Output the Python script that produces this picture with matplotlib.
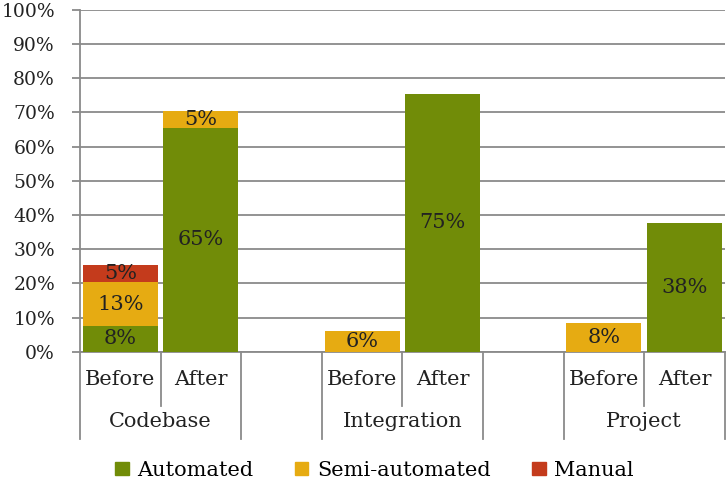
import matplotlib
matplotlib.use('Agg')
import matplotlib.pyplot as plt
from matplotlib.patches import Patch
from matplotlib.ticker import MultipleLocator, PercentFormatter
import matplotlib.transforms as mtransforms

plt.rcParams['font.family'] = 'DejaVu Serif'
plt.rcParams['font.size'] = 15

groups = ['Codebase', 'Integration', 'Project']
phases = ['Before', 'After']
series = ['Automated', 'Semi-automated', 'Manual']

# values in %, order: Codebase B/A, Integration B/A, Project B/A
automated = [7.6, 65.4, 0, 75.4, 0, 37.6]
semi_automated = [12.7, 5.0, 6.2, 0, 8.3, 0]
manual = [5.1, 0, 0, 0, 0, 0]

colors = ['#718c08', '#e6ab12', '#c43b1c']
GRID = '#8a8a8a'
TXT = '#222222'

# slot positions, one empty slot between groups
xpos = [0, 1, 3, 4, 6, 7]

fig = plt.figure(figsize=(7.27, 4.94), dpi=100)
ax = fig.add_axes([0.110, 0.288, 0.887, 0.692])

bottom = [0] * len(xpos)
for vals, col in zip([automated, semi_automated, manual], colors):
    ax.bar(xpos, vals, width=0.93, bottom=bottom, color=col, zorder=3)
    for x, v, b in zip(xpos, vals, bottom):
        if v > 0:
            ax.text(x, b + v / 2, '%d%%' % int(v + 0.5), ha='center', va='center',
                    color=TXT, fontsize=15, zorder=4)
    bottom = [b + v for b, v in zip(bottom, vals)]

ax.set_xlim(-0.5, 7.5)
ax.set_ylim(0, 100)
ax.yaxis.set_major_locator(MultipleLocator(10))
ax.yaxis.set_major_formatter(PercentFormatter(decimals=0))
ax.grid(axis='y', color=GRID, linewidth=1.3, zorder=0)
ax.set_xticks([])
ax.tick_params(axis='y', length=6, color=GRID, width=1.3, labelcolor=TXT,
               labelsize=13.5, pad=12)
for s in ['top', 'right']:
    ax.spines[s].set_visible(False)
for s in ['left', 'bottom']:
    ax.spines[s].set_color(GRID)
    ax.spines[s].set_linewidth(1.3)

# multi-level category axis
trans = mtransforms.blended_transform_factory(ax.transData, ax.transAxes)
for x in [-0.5, 1.5, 2.5, 4.5, 5.5, 7.5]:
    ax.plot([x, x], [0, -0.254], transform=trans, color=GRID, lw=1.3, clip_on=False)
for x in [0.5, 3.5, 6.5]:
    ax.plot([x, x], [0, -0.159], transform=trans, color=GRID, lw=1.3, clip_on=False)
for i, x in enumerate(xpos):
    ax.text(x, -0.08, phases[i % 2], transform=trans, ha='center', va='center', color=TXT)
for g, x in zip(groups, [0.5, 3.5, 6.5]):
    ax.text(x, -0.204, g, transform=trans, ha='center', va='center', color=TXT)

handles = [Patch(color=c) for c in colors]
fig.legend(handles, series, loc='center', bbox_to_anchor=(0.515, 0.048), ncol=3,
           frameon=False, handlelength=0.65, handleheight=0.65, handletextpad=0.4,
           columnspacing=2.0, fontsize=15)

fig.savefig('out.png', dpi=100)
